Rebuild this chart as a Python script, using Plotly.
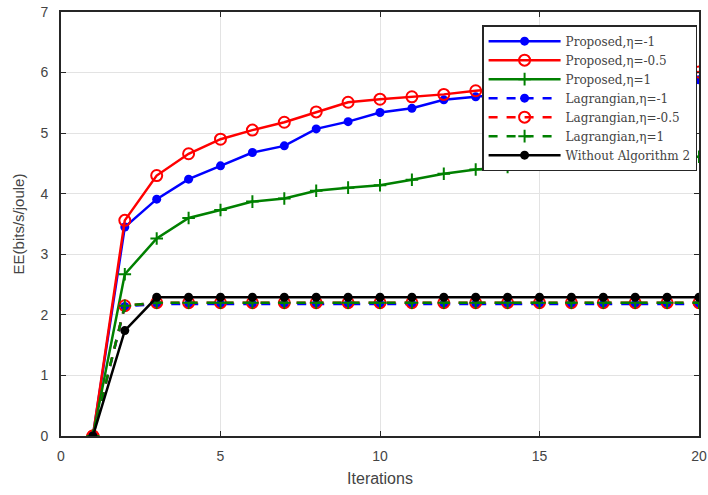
import plotly.graph_objects as go

iterations = list(range(1, 21))

prop_m1 = [0, 3.45, 3.91, 4.24, 4.46, 4.68, 4.79, 5.07, 5.19, 5.34, 5.41, 5.55,
           5.60, 5.65, 5.70, 5.74, 5.78, 5.82, 5.85, 5.88]
prop_m05 = [0, 3.56, 4.30, 4.66, 4.90, 5.05, 5.18, 5.35, 5.51, 5.56, 5.60, 5.64,
            5.70, 5.75, 5.80, 5.85, 5.89, 5.93, 5.97, 6.01]
prop_p1 = [0, 2.67, 3.26, 3.60, 3.73, 3.87, 3.92, 4.05, 4.10, 4.14, 4.23, 4.33,
           4.40, 4.44, 4.48, 4.51, 4.54, 4.56, 4.58, 4.61]
lag_m1 = [0, 2.14] + [2.18] * 18
lag_m05 = [0, 2.15] + [2.20] * 18
lag_p1 = [0, 2.15] + [2.20] * 18
without = [0, 1.74] + [2.29] * 18

x_ticks = [0, 5, 10, 15, 20]
y_ticks = [0, 1, 2, 3, 4, 5, 6, 7]

BLUE = "#0000FF"
RED = "#FF0000"
GREEN = "#008000"
BLACK = "#000000"

fig = go.Figure()

def add(name, y, color, symbol, size, dash="solid", lw=2.5, mline=0):
    fig.add_trace(go.Scatter(
        x=iterations, y=y, name=name, mode="lines+markers",
        line=dict(color=color, width=lw, dash=dash),
        marker=dict(symbol=symbol, size=size, color=color,
                    line=dict(color=color, width=mline)),
    ))

add("Proposed,η=-1", prop_m1, BLUE, "circle", 9)
add("Proposed,η=-0.5", prop_m05, RED, "circle-open", 11, mline=2)
add("Proposed,η=1", prop_p1, GREEN, "cross-thin", 9, mline=2)
add("Lagrangian,η=-1", lag_m1, BLUE, "circle", 9, dash="dash")
add("Lagrangian,η=-0.5", lag_m05, RED, "circle-open", 11, dash="dash", mline=2)
add("Lagrangian,η=1", lag_p1, GREEN, "cross-thin", 9, dash="dash", mline=2)
add("Without Algorithm 2", without, BLACK, "circle", 9)

axis_common = dict(
    showgrid=True, gridcolor="#e3e3e3", gridwidth=1,
    showline=True, linecolor="#262626", linewidth=2, mirror="ticks",
    ticks="inside", ticklen=5, tickcolor="#262626",
    tickfont=dict(family="Liberation Sans, Arial", size=14, color="#444444"),
    zeroline=False, automargin=False,
)

fig.update_layout(
    width=708, height=495,
    margin=dict(l=61, r=9, t=12, b=59),
    paper_bgcolor="white", plot_bgcolor="white",
    xaxis=dict(range=[0, 20], tickvals=x_ticks, ticklabelstandoff=6,
               title=dict(text="Iterations", standoff=10,
                          font=dict(family="Liberation Sans, Arial", size=16, color="#444444")),
               **axis_common),
    yaxis=dict(range=[0, 7], tickvals=y_ticks, ticklabelstandoff=8,
               title=dict(text="EE(bits/s/joule)", standoff=12,
                          font=dict(family="Liberation Sans, Arial", size=15, color="#444444")),
               **axis_common),
    legend=dict(
        x=0.997, y=0.969, xanchor="right", yanchor="top",
        bgcolor="white", bordercolor="#262626", borderwidth=1.5,
        font=dict(family="DejaVu Serif, serif", size=12, color="#444444"),
        itemwidth=72, tracegroupgap=0,
    ),
    showlegend=True,
)

fig.write_html("out.html")
